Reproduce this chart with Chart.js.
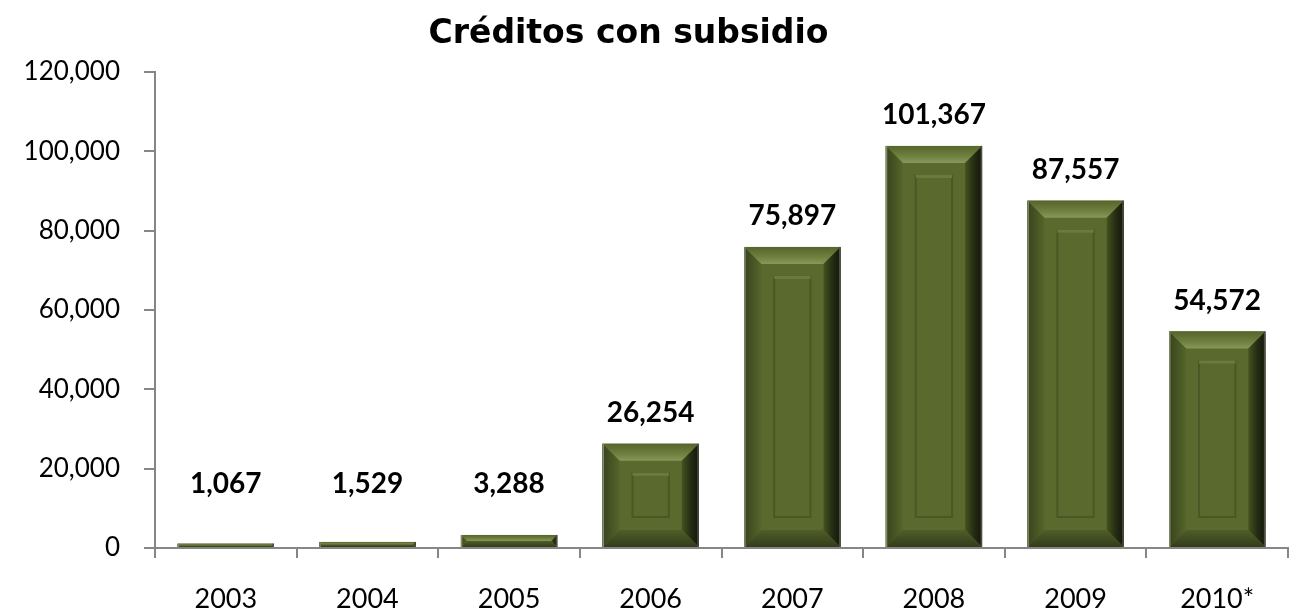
<!DOCTYPE html>
<html>
<head>
<meta charset="utf-8">
<script src="https://cdn.jsdelivr.net/npm/chart.js@4/dist/chart.umd.min.js"></script>
<style>
  html, body { margin: 0; padding: 0; background: #fff; }
  #wrap { width: 1303px; height: 613px; }
</style>
</head>
<body>
<div id="wrap"><canvas id="chart" width="1303" height="613"></canvas></div>
<script>
const years = ['2003', '2004', '2005', '2006', '2007', '2008', '2009', '2010*'];
const creditos = [1067, 1529, 3288, 26254, 75897, 101367, 87557, 54572];
const yTicks = [0, 20000, 40000, 60000, 80000, 100000, 120000];
const chartTitle = 'Créditos con subsidio';

const FONT = 'Lato, "Liberation Sans", sans-serif';
const TITLE_FONT = '"DejaVu Sans", Lato, sans-serif';
const axisGray = '#868686';

function poly(ctx, pts, fill) {
    ctx.beginPath();
    ctx.moveTo(pts[0][0], pts[0][1]);
    for (let i = 1; i < pts.length; i++) ctx.lineTo(pts[i][0], pts[i][1]);
    ctx.closePath();
    ctx.fillStyle = fill;
    ctx.fill();
}

// bevelled bars, drawn over the bar elements the library laid out
const bevelBars = {
    id: 'bevelBars',
    afterDatasetsDraw(chart) {
        const ctx = chart.ctx;
        const meta = chart.getDatasetMeta(0);
        ctx.save();
        meta.data.forEach((bar) => {
            const p = bar.getProps(['x', 'y', 'base', 'width'], true);
            const L = p.x - p.width / 2, R = p.x + p.width / 2;
            const T = Math.min(p.y, p.base), B = Math.max(p.y, p.base);
            const h = B - T;
            const d = Math.min(17, h / 2, p.width / 2);

            ctx.fillStyle = '#5a6a2e';
            ctx.fillRect(L, T, R - L, h);

            let g = ctx.createLinearGradient(0, T, 0, T + d);
            g.addColorStop(0, '#56652b');
            g.addColorStop(0.6, '#6f8040');
            g.addColorStop(1, '#87985a');
            poly(ctx, [[L, T], [R, T], [R - d, T + d], [L + d, T + d]], g);

            g = ctx.createLinearGradient(L, 0, L + d, 0);
            g.addColorStop(0, '#38431d');
            g.addColorStop(1, '#55652a');
            poly(ctx, [[L, T], [L + d, T + d], [L + d, B - d], [L, B]], g);

            g = ctx.createLinearGradient(R, 0, R - d, 0);
            g.addColorStop(0, '#12160a');
            g.addColorStop(0.5, '#262e13');
            g.addColorStop(1, '#45521f');
            poly(ctx, [[R, T], [R, B], [R - d, B - d], [R - d, T + d]], g);

            g = ctx.createLinearGradient(0, B, 0, B - d);
            g.addColorStop(0, '#333c1b');
            g.addColorStop(1, '#4f5e28');
            poly(ctx, [[L, B], [R, B], [R - d, B - d], [L + d, B - d]], g);

            // outer edge
            ctx.fillStyle = '#808a6c';
            ctx.fillRect(L, T, 1.5, h);
            ctx.fillStyle = '#4d4f44';
            ctx.fillRect(R - 1.5, T, 1.5, h);

            // inner panel
            const ins = 30;
            if (h > 2 * ins + 8 && p.width > 2 * ins + 8) {
                ctx.strokeStyle = '#4a5825';
                ctx.lineWidth = 2;
                ctx.strokeRect(L + ins, T + ins, R - L - 2 * ins, h - 2 * ins);
                ctx.fillStyle = '#6a7b3c';
                ctx.fillRect(L + ins, T + ins - 1, R - L - 2 * ins, 3);
            }
        });
        ctx.restore();
    },
    afterDraw(chart) {
        const ctx = chart.ctx;
        const meta = chart.getDatasetMeta(0);
        ctx.save();
        ctx.font = 'bold 28px ' + FONT;
        ctx.fillStyle = '#000';
        ctx.textAlign = 'center';
        ctx.textBaseline = 'middle';
        meta.data.forEach((bar, i) => {
            const top = Math.min(bar.y, bar.base - 32);
            ctx.fillText(creditos[i].toLocaleString('en-US'), bar.x, top - 31);
        });

        // title sits a little left of the plot centre, as in the original
        ctx.font = 'bold 33px ' + TITLE_FONT;
        ctx.textAlign = 'center';
        ctx.textBaseline = 'alphabetic';
        const cx = (chart.chartArea.left + chart.chartArea.right) / 2 - 93;
        ctx.fillText(chartTitle, cx, 43);
        ctx.restore();
    }
};

new Chart(document.getElementById('chart'), {
    type: 'bar',
    data: {
        labels: years,
        datasets: [{
            label: chartTitle,
            data: creditos,
            backgroundColor: '#5a6a2e',
            borderWidth: 0,
            barPercentage: 0.68,
            categoryPercentage: 1
        }]
    },
    options: {
        responsive: false,
        animation: false,
        layout: { padding: { left: 0, right: 15, top: 72, bottom: 0 } },
        plugins: {
            legend: { display: false },
            tooltip: { enabled: false },
            title: { display: false }
        },
        scales: {
            x: {
                grid: { display: true, drawOnChartArea: false, drawTicks: true, tickLength: 10, color: axisGray, lineWidth: 2 },
                border: { display: true, color: axisGray, width: 2 },
                ticks: { color: '#000', font: { family: FONT, size: 27 }, padding: 25 },
                afterFit(s) { s.height = 65; }
            },
            y: {
                min: 0,
                max: 120000,
                afterBuildTicks(s) { s.ticks = yTicks.map(v => ({ value: v })); },
                grid: { display: true, drawOnChartArea: false, drawTicks: true, tickLength: 11, color: axisGray, lineWidth: 2 },
                border: { display: true, color: axisGray, width: 2 },
                ticks: {
                    color: '#000',
                    font: { family: FONT, size: 26 },
                    padding: 24,
                    callback: v => v.toLocaleString('en-US')
                },
                afterFit(s) { s.width = 155; }
            }
        }
    },
    plugins: [bevelBars]
});
</script>
</body>
</html>
